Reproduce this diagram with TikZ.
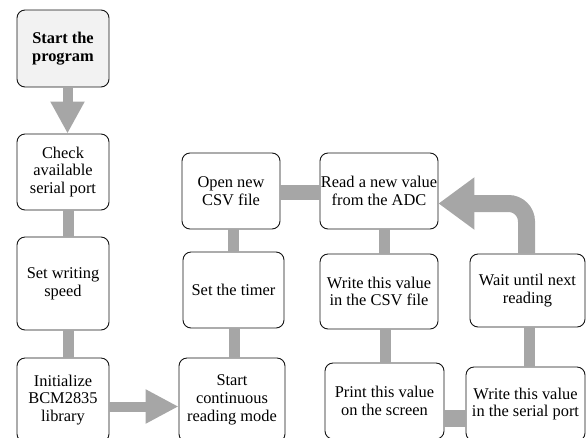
\documentclass[tikz,border=0pt]{standalone}
\usepackage{fontspec}
\setmainfont{Liberation Serif}
\usetikzlibrary{positioning, arrows.meta, calc}
\definecolor{ink}{RGB}{20,20,20}
\definecolor{rule}{RGB}{166,166,166}
\definecolor{paper}{RGB}{242,242,242}

\begin{document}
\begin{tikzpicture}[x=1pt, y=-1pt, font=\fontsize{16.4}{17.8}\selectfont]
  \tikzset{
    box/.style={draw=ink, line width=0.9pt, fill=white, rounded corners=8pt,
                align=center, inner sep=0pt},
    first/.style={box, fill=paper, font=\fontsize{16.4}{17.8}\selectfont\bfseries},
    link/.style={draw=rule, line width=11pt},
    flow/.style={draw=rule, line width=10pt, -{Triangle[length=32pt, width=32pt]}}}

  \useasboundingbox (0,0) rectangle (588,437);
  \clip (0,0) rectangle (588,437);

  % --- left column: setting up
  \node[first, minimum width=92pt, minimum height=77pt] (start) at (63,48.5) {Start the\\program};
  \node[box, minimum width=92pt, minimum height=76pt] (check) at (63,172) {Check\\available\\serial port};
  \node[box, minimum width=92pt, minimum height=93pt] (speed) at (63,283.5) {Set writing\\speed};
  \node[box, minimum width=92pt, minimum height=84pt] (init) at (63,400) {Initialize\\BCM2835\\library};

  % --- middle column: getting ready to read
  \node[box, minimum width=106pt, minimum height=84pt] (startread) at (232,400) {Start\\continuous\\reading mode};
  \node[box, minimum width=101pt, minimum height=76pt] (timer) at (233.5,290) {Set the timer};
  \node[box, minimum width=98pt, minimum height=76pt] (opencsv) at (231,191) {Open new\\CSV file};

  % --- the reading loop
  \node[box, minimum width=118pt, minimum height=76pt] (read) at (379,191) {Read a new value\\from the ADC};
  \node[box, minimum width=118pt, minimum height=75pt] (writecsv) at (379,291.5) {Write this value\\in the CSV file};
  \node[box, minimum width=119pt, minimum height=76pt] (print) at (384.5,401) {Print this value\\on the screen};
  \node[box, minimum width=119pt, minimum height=74pt] (serial) at (525.5,404) {Write this value\\in the serial port};
  \node[box, minimum width=115pt, minimum height=73pt] (wait) at (527.5,290.5) {Wait until next\\reading};

  % --- connectors
  \draw[flow] ([xshift=4.5pt]start.south) -- ([xshift=4.5pt]start.south |- check.north);
  \draw[link] ([xshift=5pt]check.south) -- ([xshift=5pt]check.south |- speed.north);
  \draw[link] ([xshift=5pt]speed.south) -- ([xshift=5pt]speed.south |- init.north);
  \draw[flow, -{Triangle[length=33pt, width=32pt]}]
    ([yshift=-6.5pt]init.east) -- ([yshift=-6.5pt]init.east -| startread.west);
  \draw[link] ([xshift=2pt]startread.north) -- ([xshift=2pt]startread.north |- timer.south);
  \draw[link] (timer.north) -- (timer.north |- opencsv.south);
  \draw[link, line width=15pt] ([yshift=-1.5pt]opencsv.east) -- ([yshift=-1.5pt]opencsv.east -| read.west);
  \draw[link] ([xshift=5pt]read.south) -- ([xshift=5pt]read.south |- writecsv.north);
  \draw[link] ([xshift=6pt]writecsv.south) -- ([xshift=6pt]writecsv.south |- print.north);
  \draw[link, line width=17pt] ([yshift=-17.5pt]print.east) -- ([yshift=-17.5pt]print.east -| serial.west);
  \draw[link] ([xshift=3.5pt]serial.north) -- ([xshift=3.5pt]serial.north |- wait.south);
  \draw[flow, line width=17pt, rounded corners=18pt, -{Triangle[length=36pt, width=50pt]}]
    ([xshift=-1pt]wait.north) |- ([yshift=-12.5pt]read.east);
\end{tikzpicture}
\end{document}
